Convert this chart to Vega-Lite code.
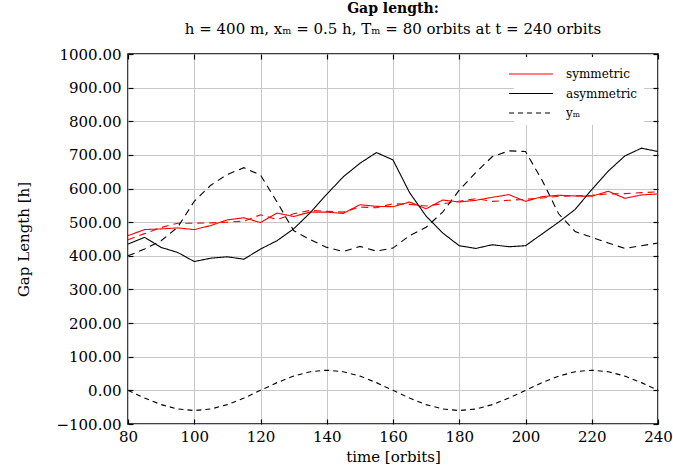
{
  "$schema": "https://vega.github.io/schema/vega-lite/v6.json",
  "width": 530,
  "height": 370,
  "autosize": "none",
  "padding": {"left": 128, "top": 54, "right": 15, "bottom": 52},
  "background": "white",
  "title": {
    "text": "Gap length:",
    "subtitle": "h = 400 m, xₘ = 0.5 h, Tₘ = 80 orbits at t = 240 orbits",
    "font": "DejaVu Serif",
    "fontSize": 14,
    "fontWeight": "bold",
    "subtitleFont": "DejaVu Serif",
    "subtitleFontSize": 15,
    "subtitleColor": "black",
    "subtitlePadding": 6,
    "color": "black",
    "anchor": "middle",
    "offset": 10
  },
  "config": {
    "view": {"stroke": "black", "strokeWidth": 1.5},
    "axis": {
      "labelFont": "DejaVu Serif",
      "titleFont": "DejaVu Serif",
      "labelFontSize": 15,
      "titleFontSize": 15,
      "labelColor": "black",
      "titleColor": "black",
      "titleFontWeight": "normal",
      "domain": false,
      "tickColor": "black",
      "tickSize": -5,
      "tickWidth": 1.2,
      "gridColor": "#c8c8c8",
      "gridWidth": 1,
      "gridOpacity": 1
    }
  },
  "data": {
    "values": [
      {"t": 80, "s": "symmetric", "v": 460}, {"t": 85, "s": "symmetric", "v": 478}, {"t": 90, "s": "symmetric", "v": 480}, {"t": 95, "s": "symmetric", "v": 483}, {"t": 100, "s": "symmetric", "v": 478}, {"t": 105, "s": "symmetric", "v": 490}, {"t": 110, "s": "symmetric", "v": 507}, {"t": 115, "s": "symmetric", "v": 513}, {"t": 120, "s": "symmetric", "v": 499}, {"t": 125, "s": "symmetric", "v": 527}, {"t": 130, "s": "symmetric", "v": 517}, {"t": 135, "s": "symmetric", "v": 530}, {"t": 140, "s": "symmetric", "v": 530}, {"t": 145, "s": "symmetric", "v": 526}, {"t": 150, "s": "symmetric", "v": 552}, {"t": 155, "s": "symmetric", "v": 547}, {"t": 160, "s": "symmetric", "v": 546}, {"t": 165, "s": "symmetric", "v": 560}, {"t": 170, "s": "symmetric", "v": 540}, {"t": 175, "s": "symmetric", "v": 566}, {"t": 180, "s": "symmetric", "v": 560}, {"t": 185, "s": "symmetric", "v": 565}, {"t": 190, "s": "symmetric", "v": 574}, {"t": 195, "s": "symmetric", "v": 582}, {"t": 200, "s": "symmetric", "v": 562}, {"t": 205, "s": "symmetric", "v": 576}, {"t": 210, "s": "symmetric", "v": 580}, {"t": 215, "s": "symmetric", "v": 578}, {"t": 220, "s": "symmetric", "v": 577}, {"t": 225, "s": "symmetric", "v": 592}, {"t": 230, "s": "symmetric", "v": 571}, {"t": 235, "s": "symmetric", "v": 581}, {"t": 240, "s": "symmetric", "v": 584},

      {"t": 80, "s": "asymmetric", "v": 435}, {"t": 85, "s": "asymmetric", "v": 455}, {"t": 90, "s": "asymmetric", "v": 425}, {"t": 95, "s": "asymmetric", "v": 410}, {"t": 100, "s": "asymmetric", "v": 383}, {"t": 105, "s": "asymmetric", "v": 393}, {"t": 110, "s": "asymmetric", "v": 397}, {"t": 115, "s": "asymmetric", "v": 390}, {"t": 120, "s": "asymmetric", "v": 420}, {"t": 125, "s": "asymmetric", "v": 445}, {"t": 130, "s": "asymmetric", "v": 480}, {"t": 135, "s": "asymmetric", "v": 528}, {"t": 140, "s": "asymmetric", "v": 583}, {"t": 145, "s": "asymmetric", "v": 635}, {"t": 150, "s": "asymmetric", "v": 675}, {"t": 155, "s": "asymmetric", "v": 707}, {"t": 160, "s": "asymmetric", "v": 685}, {"t": 165, "s": "asymmetric", "v": 588}, {"t": 170, "s": "asymmetric", "v": 518}, {"t": 175, "s": "asymmetric", "v": 468}, {"t": 180, "s": "asymmetric", "v": 430}, {"t": 185, "s": "asymmetric", "v": 422}, {"t": 190, "s": "asymmetric", "v": 433}, {"t": 195, "s": "asymmetric", "v": 427}, {"t": 200, "s": "asymmetric", "v": 430}, {"t": 205, "s": "asymmetric", "v": 465}, {"t": 210, "s": "asymmetric", "v": 500}, {"t": 215, "s": "asymmetric", "v": 538}, {"t": 220, "s": "asymmetric", "v": 597}, {"t": 225, "s": "asymmetric", "v": 652}, {"t": 230, "s": "asymmetric", "v": 697}, {"t": 235, "s": "asymmetric", "v": 720}, {"t": 240, "s": "asymmetric", "v": 710},

      {"t": 80, "s": "yₘ", "v": 0}, {"t": 85, "s": "yₘ", "v": -23}, {"t": 90, "s": "yₘ", "v": -42.4}, {"t": 95, "s": "yₘ", "v": -55.4}, {"t": 100, "s": "yₘ", "v": -60}, {"t": 105, "s": "yₘ", "v": -55.4}, {"t": 110, "s": "yₘ", "v": -42.4}, {"t": 115, "s": "yₘ", "v": -23}, {"t": 120, "s": "yₘ", "v": 0}, {"t": 125, "s": "yₘ", "v": 23}, {"t": 130, "s": "yₘ", "v": 42.4}, {"t": 135, "s": "yₘ", "v": 55.4}, {"t": 140, "s": "yₘ", "v": 60}, {"t": 145, "s": "yₘ", "v": 55.4}, {"t": 150, "s": "yₘ", "v": 42.4}, {"t": 155, "s": "yₘ", "v": 23}, {"t": 160, "s": "yₘ", "v": 0}, {"t": 165, "s": "yₘ", "v": -23}, {"t": 170, "s": "yₘ", "v": -42.4}, {"t": 175, "s": "yₘ", "v": -55.4}, {"t": 180, "s": "yₘ", "v": -60}, {"t": 185, "s": "yₘ", "v": -55.4}, {"t": 190, "s": "yₘ", "v": -42.4}, {"t": 195, "s": "yₘ", "v": -23}, {"t": 200, "s": "yₘ", "v": 0}, {"t": 205, "s": "yₘ", "v": 23}, {"t": 210, "s": "yₘ", "v": 42.4}, {"t": 215, "s": "yₘ", "v": 55.4}, {"t": 220, "s": "yₘ", "v": 60}, {"t": 225, "s": "yₘ", "v": 55.4}, {"t": 230, "s": "yₘ", "v": 42.4}, {"t": 235, "s": "yₘ", "v": 23}, {"t": 240, "s": "yₘ", "v": 0},

      {"t": 80, "s": "sym2", "v": 448}, {"t": 85, "s": "sym2", "v": 466}, {"t": 90, "s": "sym2", "v": 484}, {"t": 95, "s": "sym2", "v": 497}, {"t": 100, "s": "sym2", "v": 497}, {"t": 105, "s": "sym2", "v": 498}, {"t": 110, "s": "sym2", "v": 500}, {"t": 115, "s": "sym2", "v": 503}, {"t": 120, "s": "sym2", "v": 522}, {"t": 125, "s": "sym2", "v": 508}, {"t": 130, "s": "sym2", "v": 525}, {"t": 135, "s": "sym2", "v": 535}, {"t": 140, "s": "sym2", "v": 532}, {"t": 145, "s": "sym2", "v": 530}, {"t": 150, "s": "sym2", "v": 545}, {"t": 155, "s": "sym2", "v": 543}, {"t": 160, "s": "sym2", "v": 555}, {"t": 165, "s": "sym2", "v": 553}, {"t": 170, "s": "sym2", "v": 548}, {"t": 175, "s": "sym2", "v": 555}, {"t": 180, "s": "sym2", "v": 562}, {"t": 185, "s": "sym2", "v": 570}, {"t": 190, "s": "sym2", "v": 562}, {"t": 195, "s": "sym2", "v": 565}, {"t": 200, "s": "sym2", "v": 568}, {"t": 205, "s": "sym2", "v": 572}, {"t": 210, "s": "sym2", "v": 577}, {"t": 215, "s": "sym2", "v": 578}, {"t": 220, "s": "sym2", "v": 580}, {"t": 225, "s": "sym2", "v": 584}, {"t": 230, "s": "sym2", "v": 585}, {"t": 235, "s": "sym2", "v": 588}, {"t": 240, "s": "sym2", "v": 590},

      {"t": 80, "s": "asym2", "v": 400}, {"t": 85, "s": "asym2", "v": 420}, {"t": 90, "s": "asym2", "v": 445}, {"t": 95, "s": "asym2", "v": 485}, {"t": 100, "s": "asym2", "v": 562}, {"t": 105, "s": "asym2", "v": 610}, {"t": 110, "s": "asym2", "v": 642}, {"t": 115, "s": "asym2", "v": 662}, {"t": 120, "s": "asym2", "v": 640}, {"t": 125, "s": "asym2", "v": 560}, {"t": 130, "s": "asym2", "v": 475}, {"t": 135, "s": "asym2", "v": 448}, {"t": 140, "s": "asym2", "v": 425}, {"t": 145, "s": "asym2", "v": 413}, {"t": 150, "s": "asym2", "v": 428}, {"t": 155, "s": "asym2", "v": 414}, {"t": 160, "s": "asym2", "v": 423}, {"t": 165, "s": "asym2", "v": 460}, {"t": 170, "s": "asym2", "v": 485}, {"t": 175, "s": "asym2", "v": 530}, {"t": 180, "s": "asym2", "v": 595}, {"t": 185, "s": "asym2", "v": 648}, {"t": 190, "s": "asym2", "v": 695}, {"t": 195, "s": "asym2", "v": 712}, {"t": 200, "s": "asym2", "v": 710}, {"t": 205, "s": "asym2", "v": 625}, {"t": 210, "s": "asym2", "v": 525}, {"t": 215, "s": "asym2", "v": 472}, {"t": 220, "s": "asym2", "v": 455}, {"t": 225, "s": "asym2", "v": 438}, {"t": 230, "s": "asym2", "v": 422}, {"t": 235, "s": "asym2", "v": 430}, {"t": 240, "s": "asym2", "v": 438}
    ]
  },
  "layer": [
    {
      "transform": [{"filter": {"field": "s", "equal": "sym2"}}],
      "mark": {"type": "line", "color": "#ff0000", "strokeWidth": 1.1, "strokeDash": [7, 5]},
      "encoding": {
        "x": {"field": "t", "type": "quantitative", "scale": {"domain": [80, 240], "nice": false, "zero": false}, "axis": {"orient": "top", "labels": false, "title": null, "grid": false, "values": [80, 100, 120, 140, 160, 180, 200, 220, 240]}},
        "y": {"field": "v", "type": "quantitative", "scale": {"domain": [-100, 1000], "nice": false, "zero": false}, "axis": {"orient": "right", "labels": false, "title": null, "grid": false, "values": [-100, 0, 100, 200, 300, 400, 500, 600, 700, 800, 900, 1000]}}
      }
    },
    {
      "transform": [{"filter": {"field": "s", "equal": "asym2"}}],
      "mark": {"type": "line", "color": "#000000", "strokeWidth": 1.1, "strokeDash": [7, 5]},
      "encoding": {
        "x": {"field": "t", "type": "quantitative", "axis": null},
        "y": {"field": "v", "type": "quantitative", "axis": null}
      }
    },
    {
      "transform": [{"filter": {"field": "s", "oneOf": ["symmetric", "asymmetric", "yₘ"]}}],
      "mark": {"type": "line", "strokeWidth": 1.1},
      "encoding": {
        "x": {
          "field": "t", "type": "quantitative",
          "axis": {"title": "time [orbits]", "values": [80, 100, 120, 140, 160, 180, 200, 220, 240], "grid": true, "labelPadding": 10, "titlePadding": 5, "labelFlush": false}
        },
        "y": {
          "field": "v", "type": "quantitative",
          "axis": {"title": "Gap Length [h]", "values": [-100, 0, 100, 200, 300, 400, 500, 600, 700, 800, 900, 1000], "format": ".2f", "grid": true, "labelPadding": 12, "titlePadding": 24}
        },
        "color": {
          "field": "s", "type": "nominal",
          "scale": {"domain": ["symmetric", "asymmetric", "yₘ"], "range": ["#ff0000", "#000000", "#000000"]},
          "legend": {
            "title": null, "orient": "none", "legendX": 386, "legendY": 3,
            "symbolType": "M-2.2,0H2.2", "symbolSize": 400, "symbolStrokeWidth": 1.1,
            "labelFont": "DejaVu Serif", "labelFontSize": 12, "labelColor": "black",
            "rowPadding": 2.5, "labelOffset": 24, "padding": 6, "fillColor": "white",
            "encode": {"symbols": {"update": {
              "strokeDash": {"signal": "datum.value === 'yₘ' ? [5, 4] : [1, 0]"},
              "stroke": {"signal": "datum.value === 'symmetric' ? '#ff0000' : '#000000'"},
              "fill": {"value": "transparent"},
              "strokeWidth": {"value": 1.1}
            }}}
          }
        },
        "strokeDash": {
          "field": "s", "type": "nominal",
          "scale": {"domain": ["symmetric", "asymmetric", "yₘ"], "range": [[1, 0], [1, 0], [5, 4]]},
          "legend": null
        }
      }
    }
  ],
  "resolve": {"axis": {"x": "independent", "y": "independent"}}
}
